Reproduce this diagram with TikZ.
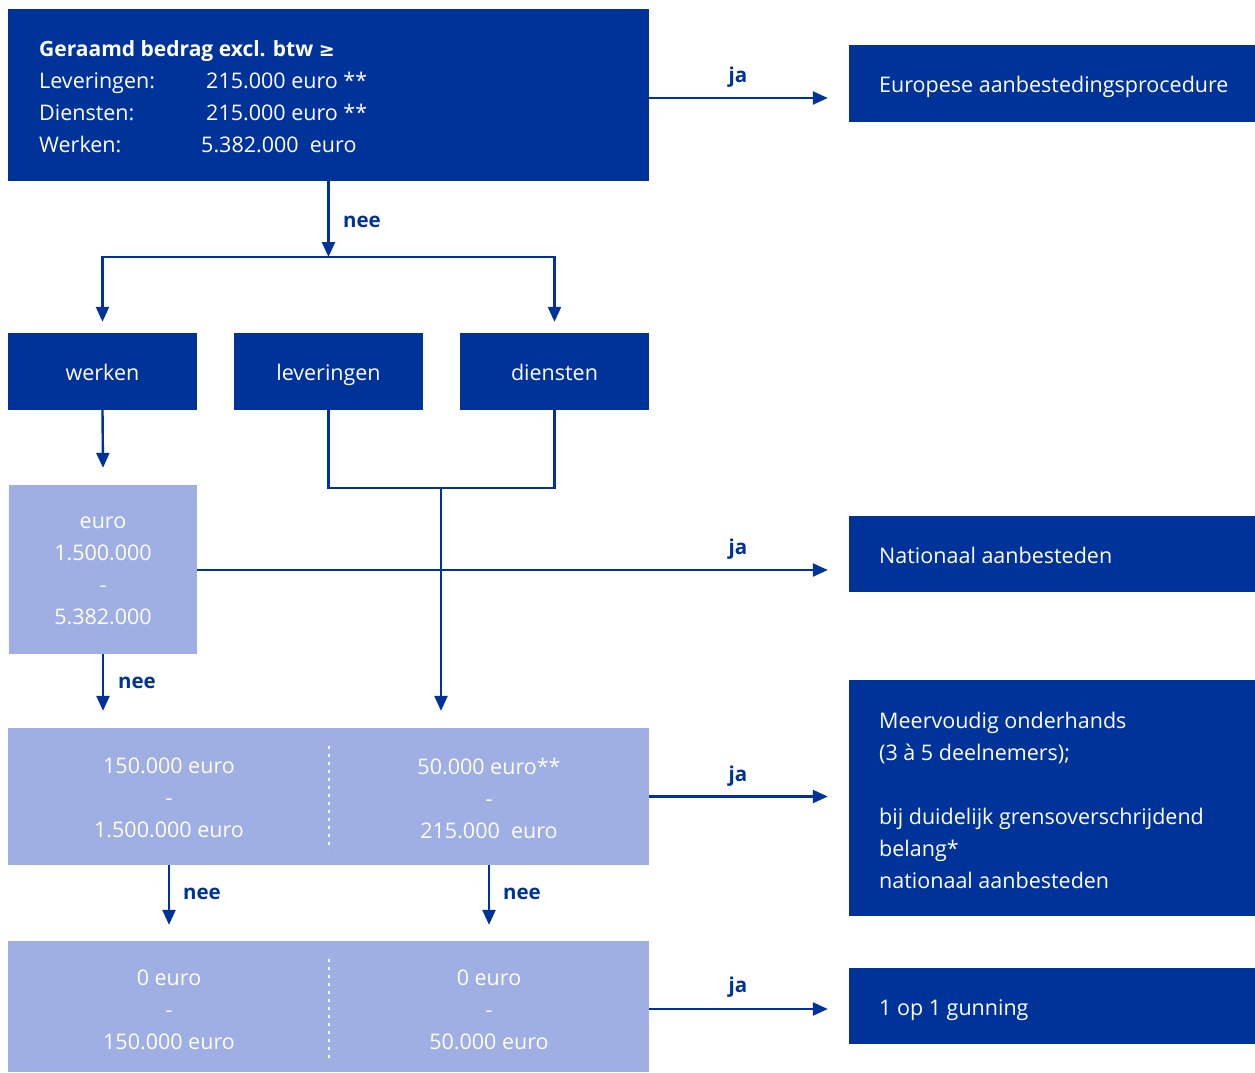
\documentclass[tikz,border=0pt]{standalone}
\usepackage{fontspec}
\setmainfont{Open Sans}
\newfontfamily\dvs{DejaVu Sans}
\usetikzlibrary{arrows.meta}
\definecolor{dblue}{HTML}{003399}
\definecolor{lblue}{HTML}{9FAEE3}
\begin{document}
\begin{tikzpicture}[x=1pt,y=-1pt,
  txt/.style={font=\fontsize{21.5}{32}\selectfont, text=white, inner sep=0pt},
  one/.style={text height=15.5pt, text depth=0pt},
  dbox/.style={fill=dblue, inner sep=0pt, draw=none},
  lbox/.style={fill=lblue, inner sep=0pt, draw=none},
  conn/.style={draw=dblue, line width=2.4pt, -{Triangle[length=15pt,width=13pt]}},
  plain/.style={draw=dblue, line width=2.4pt},
  lbl/.style={font=\fontsize{20.5}{24}\selectfont\bfseries, text=dblue, inner sep=0pt, text height=15pt, text depth=0pt},
  dots/.style={draw=white, line width=2.8pt, dash pattern=on 2.8pt off 5.2pt},
]
\useasboundingbox (0,0) rectangle (1255,1072);
% boxes
\node[dbox, minimum width=641pt, minimum height=172pt] (top) at (328.5,95) {};
\node[dbox, minimum width=406pt, minimum height=77pt] (eur) at (1052,83.5) {};
\node[dbox, minimum width=189pt, minimum height=77pt] (wer) at (102.5,371.5) {};
\node[dbox, minimum width=189pt, minimum height=77pt] (lev) at (328.5,371.5) {};
\node[dbox, minimum width=189pt, minimum height=77pt] (die) at (554.5,371.5) {};
\node[lbox, minimum width=188pt, minimum height=169pt] (rng) at (103,569.5) {};
\node[dbox, minimum width=406pt, minimum height=76pt] (nat) at (1052,554) {};
\node[lbox, minimum width=641pt, minimum height=137pt] (r2) at (328.5,796.5) {};
\node[dbox, minimum width=406pt, minimum height=236pt] (meer) at (1052,798) {};
\node[lbox, minimum width=641pt, minimum height=131pt] (r3) at (328.5,1006.5) {};
\node[dbox, minimum width=406pt, minimum height=76pt] (gun) at (1052,1006) {};

% texts
\node[txt, one, anchor=west, font=\fontsize{21}{32}\selectfont\bfseries] (t0) at (39,49) {Geraamd bedrag excl. btw {\dvs\fontsize{19}{32}\selectfont ≥}};
\node[txt, one, anchor=west] (t1) at (39,81) {Leveringen:};
\node[txt, one, anchor=west] (t1b) at (206,81) {215.000 euro **};
\node[txt, one, anchor=west] (t2) at (39,113) {Diensten:};
\node[txt, one, anchor=west] (t2b) at (206,113) {215.000 euro **};
\node[txt, one, anchor=west] (t3) at (39,145) {Werken:};
\node[txt, one, anchor=west] (t3b) at (201,145) {5.382.000\ \ euro};
\node[txt, one, anchor=west] (eurt) at (879,85) {Europese aanbestedingsprocedure};
\node[txt, one] at (102.5,373) {werken};
\node[txt, one] at (328.5,373) {leveringen};
\node[txt, one] at (554.5,373) {diensten};
\node[txt, align=center] (rngt) at (103,570.5) {euro\\1.500.000\\-\\5.382.000};
\node[txt, one, anchor=west] (natt) at (879,556) {Nationaal aanbesteden};
\node[txt, align=center] (r2l) at (169,798) {150.000 euro\\-\\1.500.000 euro};
\node[txt, align=center] (r2r) at (489,798) {50.000 euro**\\-\\215.000\ \ euro};
\node[txt, align=left, anchor=west] (meert) at (879,800) {Meervoudig onderhands\\(3 à 5 deelnemers);\\\strut\\bij duidelijk grensoverschrijdend\\belang*\\nationaal aanbesteden};
\node[txt, align=center] (r3l) at (169,1010) {0 euro\\-\\150.000 euro};
\node[txt, align=center] (r3r) at (489,1010) {0 euro\\-\\50.000 euro};
\node[txt, one, anchor=west] (gunt) at (879,1008) {1 op 1 gunning};

% dotted separators
\coordinate (d2a) at (329,746); \coordinate (d2b) at (329,850);
\coordinate (d3a) at (329,959); \coordinate (d3b) at (329,1062);
\draw[dots] (d2a) -- (d2b);
\draw[dots] (d3a) -- (d3b);

% connectors
\coordinate (split) at (328.5,257);
\coordinate (merge) at (441,488);
\draw[conn] (top.south) -- (split);
\draw[conn] (split) -| ([yshift=11pt]wer.north);
\draw[conn] (split) -| ([yshift=11pt]die.north);
\draw[conn] (wer.south) -- ([yshift=17pt]rng.north);
\draw[plain] (lev.south) |- (merge) -| (die.south);
\draw[conn] (merge) -- ([yshift=17pt]r2.north -| merge);
\draw[conn] (rng.south) -- ([yshift=17pt]r2.north -| rng.south);
\draw[conn] (r2.south -| r2l) -- ([yshift=16pt]r3.north -| r2l);
\draw[conn] (r2.south -| r2r) -- ([yshift=16pt]r3.north -| r2r);

\draw[conn, shorten >=21pt] ([yshift=-3pt]top.east) -- ([yshift=-3pt]top.east -| eur.west);
\draw[conn, shorten >=21pt] ([yshift=-0.5pt]rng.east) -- ([yshift=-0.5pt]rng.east -| nat.west);
\draw[conn, shorten >=21pt] (r2.east) -- (r2.east -| meer.west);
\draw[conn, shorten >=21pt] ([yshift=-2.5pt]r3.east) -- ([yshift=-2.5pt]r3.east -| gun.west);

% labels
\node[lbl] (ja1) at (738,75) {ja};
\node[lbl] (ja2) at (738,547) {ja};
\node[lbl] (ja3) at (738,774) {ja};
\node[lbl] (ja4) at (738,985) {ja};
\node[lbl] (nee1) at (362,220) {nee};
\node[lbl] (nee2) at (137,681) {nee};
\node[lbl] (nee3) at (202,892) {nee};
\node[lbl] (nee4) at (522,892) {nee};
\end{tikzpicture}
\end{document}
